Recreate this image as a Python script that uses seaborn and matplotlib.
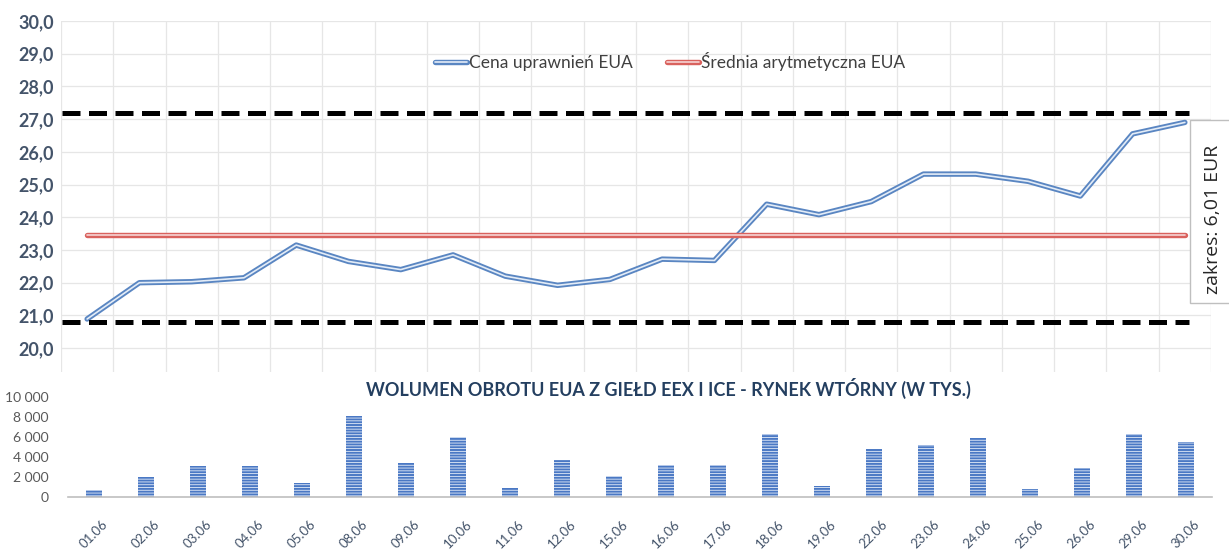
import numpy as np
import pandas as pd
import seaborn as sns
import matplotlib.pyplot as plt
import matplotlib.patheffects as pe
from matplotlib.patches import Rectangle

# data
dates = ["01.06", "02.06", "03.06", "04.06", "05.06", "08.06", "09.06", "10.06",
         "11.06", "12.06", "15.06", "16.06", "17.06", "18.06", "19.06", "22.06",
         "23.06", "24.06", "25.06", "26.06", "29.06", "30.06"]
price = [20.89, 22.00, 22.03, 22.15, 23.15, 22.65, 22.40, 22.85, 22.20, 21.92, 22.10,
         22.72, 22.68, 24.40, 24.08, 24.48, 25.32, 25.32, 25.10, 24.65, 26.55, 26.90]
mean_price = 23.46
band_max = 27.2
band_min = 20.8
volume = [700, 2000, 3150, 3150, 1450, 8100, 3400, 6000, 950, 3700, 2100,
          3250, 3250, 6300, 1150, 4850, 5250, 5900, 850, 2870, 6300, 5550]
range_text = "zakres: 6,01 EUR"
bar_title = "WOLUMEN OBROTU EUA Z GIEŁD EEX I ICE - RYNEK WTÓRNY (W TYS.)"

df = pd.DataFrame({"pos": np.arange(len(dates)), "date": dates,
                   "price": price, "mean": mean_price, "volume": volume})

sns.set_style("white")
plt.rcParams['font.family'] = ['Lato', 'DejaVu Sans']
plt.rcParams['hatch.linewidth'] = 0.6

W, H = 1229, 551
fig = plt.figure(figsize=(W / 100, H / 100), dpi=100)

# --- upper chart: price ---
ax1 = fig.add_axes([61 / W, 1 - 372 / H, (1211 - 61) / W, (372 - 21) / H])
sns.lineplot(data=df, x="pos", y="price", ax=ax1, color="#E3ECF7", lw=1.2,
             label="Cena uprawnień EUA",
             path_effects=[pe.Stroke(linewidth=3.9, foreground="#5A86C2"), pe.Normal()])
sns.lineplot(data=df, x="pos", y="mean", ax=ax1, color="#F6D3D3", lw=1.2,
             label="Średnia arytmetyczna EUA",
             path_effects=[pe.Stroke(linewidth=3.9, foreground="#D9625E"), pe.Normal()])

x_end = len(dates) - 1 + 0.08
for lvl in (band_max, band_min):
    ax1.hlines(lvl, -0.48, x_end, colors="black", lw=3.6,
               linestyles=(0, (3.6, 1.7)), zorder=3)

ax1.set_xlim(-0.5, len(dates) - 0.5)
ax1.set_ylim(19.27, 30)
yt = np.arange(20, 31, 1)
ax1.set_yticks(yt)
ax1.set_yticklabels([f"{v:.1f}".replace(".", ",") for v in yt],
                    fontsize=13, fontweight="bold", color="#44546A")
ax1.set_xticks(np.arange(-0.5, len(dates), 1))
ax1.set_xticklabels([])
ax1.tick_params(length=0, pad=5)
ax1.grid(True, color="#E6E6E6", lw=0.9)
ax1.set_axisbelow(True)
for s in ax1.spines.values():
    s.set_visible(False)
ax1.set_xlabel("")
ax1.set_ylabel("")
ax1.legend(loc="upper center", bbox_to_anchor=(0.5296, 0.957), ncol=2, frameon=False,
           fontsize=12.5, handlelength=1.85, columnspacing=2.0, handletextpad=0.1,
           labelcolor="#404040")

# --- lower chart: volume ---
ax2 = fig.add_axes([68 / W, 1 - 497 / H, (1212 - 68) / W, 100 / H])
sns.barplot(data=df, x="date", y="volume", ax=ax2, color="#4A78C4",
            width=0.29, saturation=1)
for p in ax2.patches:
    p.set_hatch("------")
    p.set_edgecolor("#E4ECF8")
    p.set_linewidth(0)
ax2.set_xlim(-0.5, len(dates) - 0.5)
ax2.set_ylim(0, 10000)
yt2 = np.arange(0, 10001, 2000)
ax2.set_yticks(yt2)
ax2.set_yticklabels([f"{v:,}".replace(",", " ") for v in yt2],
                    fontsize=10, color="#595959")
ax2.tick_params(axis="y", length=0, pad=14)
ax2.tick_params(axis="x", length=0, pad=15)
plt.setp(ax2.get_xticklabels(), rotation=45, ha="center", va="top",
         fontsize=9.5, color="#44546A")
for k in ("top", "left", "right"):
    ax2.spines[k].set_visible(False)
ax2.spines["bottom"].set_color("#BFBFBF")
ax2.spines["bottom"].set_linewidth(1.2)
ax2.set_xlabel("")
ax2.set_ylabel("")

fig.text(668 / W, 1 - 388 / H, bar_title, ha="center", va="center",
         fontsize=13, fontweight="bold", color="#243F60")

# range box on the right edge
fig.add_artist(Rectangle((1190 / W, 1 - 303 / H), 60 / W, 183 / H,
                         transform=fig.transFigure, fc="white", ec="#BFBFBF",
                         lw=1, zorder=5))
fig.text(1213 / W, 1 - 219 / H, range_text, rotation=90, ha="center", va="center",
         fontsize=14, color="#262626", family=["Open Sans", "DejaVu Sans"], zorder=6)

fig.savefig("out.png", dpi=100)
